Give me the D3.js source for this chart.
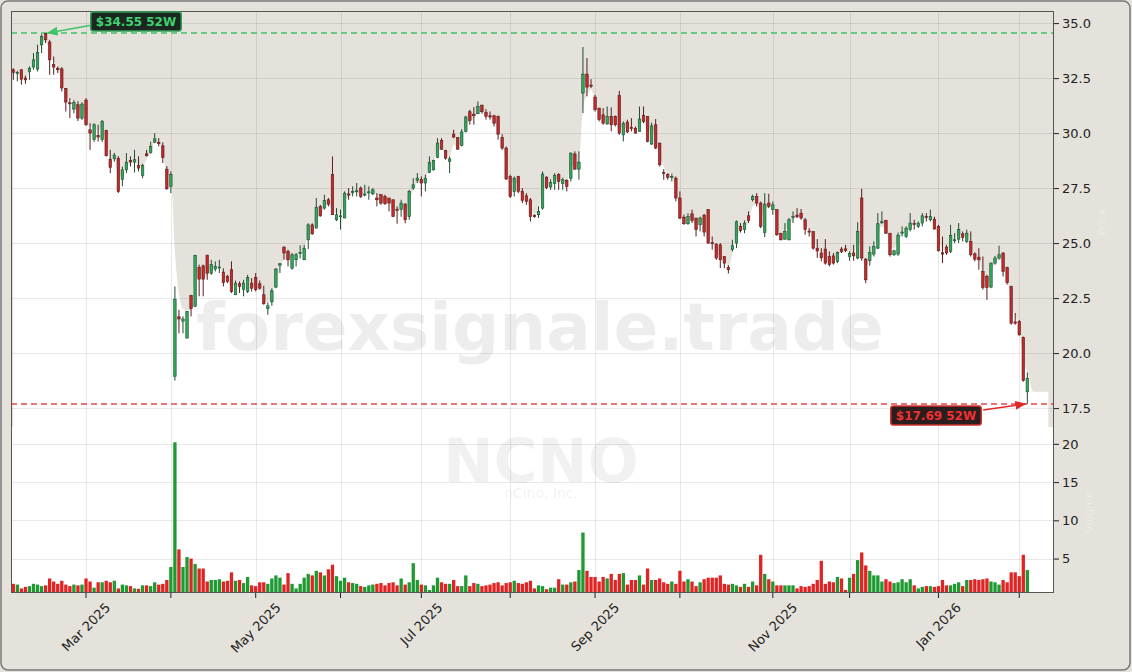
<!DOCTYPE html>
<html><head><meta charset="utf-8">
<script src="https://cdn.jsdelivr.net/npm/d3@7"></script>
<style>html,body{margin:0;padding:0;background:#e5e2dc;}svg{display:block;font-family:"DejaVu Sans",sans-serif;}</style>
</head><body><svg id="c" width="1132" height="672"></svg>
<script>
// ---------- DATA ----------
const ticker = "NCNO";
const companyName = "nCino, Inc.";
const watermarkText = "forexsignale.trade";
const startDate = "2025-02-04";
const holidays = ["2025-02-17","2025-04-18","2025-05-26","2025-06-19","2025-07-04","2025-09-01","2025-11-27","2025-12-25","2026-01-01","2026-01-19"];
const priceTicks = [17.5, 20.0, 22.5, 25.0, 27.5, 30.0, 32.5, 35.0];
const volumeTicks = [5, 10, 15, 20];
const labeledMonths = [0, 2, 4, 6, 8, 10]; // Jan, Mar, May, Jul, Sep, Nov

const openP = [
32.88,32.70,32.88,32.50,32.80,33.00,32.91,34.01,34.52,34.14,
33.11,32.95,32.92,32.02,31.38,31.09,31.29,30.68,31.50,30.15,
29.70,29.90,29.70,30.11,28.82,28.83,28.86,27.90,28.33,28.76,
28.68,28.52,28.08,29.06,29.12,29.59,29.58,29.42,28.36,27.58,
18.95,21.65,21.45,20.68,22.62,22.12,23.90,23.97,24.45,23.63,
23.82,23.90,23.68,23.48,23.79,22.65,23.15,22.90,22.80,23.18,
23.44,23.15,22.65,22.02,22.33,23.00,24.00,24.82,24.62,23.86,
24.24,24.52,24.24,25.15,25.83,25.68,26.67,26.59,26.97,28.11,
26.06,26.20,26.14,27.23,27.30,27.33,27.50,27.20,27.30,27.24,
27.05,27.20,27.12,27.05,26.97,26.54,26.52,26.77,26.20,27.50,
27.85,27.90,27.73,28.21,28.33,28.90,29.67,29.20,28.71,29.95,
29.80,29.44,30.08,30.97,30.86,30.88,31.27,30.94,30.79,30.79,
30.76,29.80,29.32,28.03,27.35,28.03,27.35,27.15,26.97,26.27,
26.29,26.59,28.00,27.55,27.70,28.11,27.70,27.85,27.95,29.05,
28.36,31.82,32.68,32.18,31.64,31.14,30.83,30.42,30.76,30.76,
31.70,29.92,30.50,30.26,30.20,30.08,30.80,30.76,29.50,30.38,
29.55,28.20,28.11,28.00,27.95,27.05,26.18,25.88,26.33,26.14,
25.83,26.27,26.52,25.03,24.95,24.92,24.39,23.89,24.70,25.00,
25.76,25.61,26.24,26.97,27.12,26.82,25.48,26.82,26.52,26.52,
25.45,25.18,25.15,26.17,26.27,26.36,26.06,25.55,25.53,24.77,
24.55,24.73,24.39,24.42,24.17,24.73,24.74,24.39,24.55,24.32,
27.05,24.27,24.20,24.50,24.77,25.92,26.02,25.45,24.47,24.50,
25.48,25.30,25.61,25.89,25.76,25.91,26.20,26.06,26.09,25.76,
24.56,24.82,24.62,25.12,25.18,25.42,25.08,25.08,24.51,24.36,
23.70,23.48,23.00,24.09,24.32,24.55,23.89,23.03,21.42,21.44,
20.70,18.24];
const highP = [
32.95,32.83,32.91,32.61,33.03,33.64,34.02,34.50,34.55,34.24,
33.48,33.03,33.00,32.05,31.59,31.50,31.45,31.40,31.59,30.45,
30.45,30.38,30.60,30.15,29.24,29.10,28.95,28.48,29.09,28.94,
29.24,28.94,28.60,29.24,29.61,30.00,29.77,29.58,28.50,28.26,
23.03,21.97,21.67,21.90,22.65,24.47,24.02,24.02,24.47,24.24,
24.17,24.24,23.85,23.56,24.17,23.30,23.26,23.33,23.56,23.41,
23.64,23.30,23.06,22.30,22.95,23.86,24.09,24.85,24.70,24.55,
24.55,24.90,24.92,25.90,25.90,27.05,26.74,27.20,27.05,28.94,
26.59,26.52,27.35,27.50,27.58,27.73,27.58,27.65,27.58,27.50,
27.27,27.20,27.20,27.05,26.97,26.67,26.97,26.82,27.42,27.95,
28.18,28.03,28.11,28.94,28.79,29.77,29.77,29.24,28.94,30.15,
29.80,30.18,30.79,31.06,31.18,31.44,31.29,31.09,30.98,30.83,
30.80,29.95,29.39,28.11,28.03,28.06,27.50,27.27,27.05,26.30,
26.67,28.26,28.03,27.90,28.18,28.18,27.97,27.90,29.12,29.17,
29.17,33.91,33.41,32.45,31.74,31.14,31.14,31.21,31.17,30.80,
31.92,30.53,30.61,30.68,30.30,31.21,31.21,30.76,30.48,30.64,
29.55,28.36,28.18,28.15,28.03,27.35,26.29,26.36,26.52,26.14,
26.20,26.33,26.55,25.30,25.00,25.00,24.39,24.00,25.15,26.03,
25.91,26.03,26.44,27.20,27.27,26.89,27.27,27.24,26.89,26.52,
25.45,25.91,26.14,26.44,26.59,26.55,26.14,25.68,25.53,25.18,
24.77,25.18,24.62,24.55,24.62,24.82,24.92,24.62,24.92,25.95,
27.47,24.32,24.85,25.08,26.36,26.44,26.06,25.45,24.70,25.48,
25.76,25.76,26.36,26.06,25.98,26.36,26.36,26.52,26.20,25.83,
25.30,24.92,25.83,25.45,25.91,25.53,25.61,25.53,24.58,24.77,
24.39,23.56,24.12,24.42,24.88,24.58,23.93,23.06,21.82,21.50,
20.75,19.12];
const lowP = [
32.42,32.35,32.20,32.24,32.42,32.88,32.80,33.64,34.09,32.65,
32.65,32.73,31.89,30.98,30.68,30.90,30.55,30.60,30.33,29.24,
29.60,29.62,29.60,28.94,28.18,28.70,27.28,27.58,28.18,28.48,
28.21,28.26,27.95,28.94,29.06,29.55,29.40,28.64,27.42,27.27,
18.75,20.90,20.90,20.68,21.67,22.10,22.58,22.58,23.33,23.56,
23.71,23.64,23.03,23.18,22.73,22.65,22.73,22.58,22.73,22.80,
22.80,22.88,22.20,21.74,22.15,22.95,23.64,24.24,23.94,23.79,
23.94,24.30,24.24,24.73,25.38,25.68,26.20,26.52,26.67,26.29,
26.00,25.61,26.14,26.97,27.12,27.12,27.05,27.12,26.97,27.18,
26.67,26.74,26.74,26.44,26.20,25.88,26.20,25.90,26.06,27.42,
27.73,27.12,27.35,28.18,28.30,28.86,29.24,28.79,28.18,29.77,
29.24,29.39,30.03,30.38,30.38,30.86,30.88,30.61,30.61,30.30,
29.70,29.24,27.88,27.05,27.12,27.27,26.82,26.74,25.98,26.15,
26.14,26.52,27.45,27.42,27.42,27.42,27.42,27.35,27.80,28.33,
27.88,30.91,31.67,32.05,30.98,30.53,30.38,30.38,30.08,30.30,
29.92,29.62,30.00,30.08,29.97,30.08,30.45,29.58,29.47,29.27,
28.48,27.88,27.88,27.80,26.90,26.09,25.83,25.83,25.91,25.30,
25.53,25.30,24.97,24.70,24.24,23.86,23.86,23.62,24.62,24.77,
25.48,25.45,25.91,26.89,26.67,25.68,25.27,26.59,26.29,25.33,
25.12,25.15,25.12,25.91,26.14,26.06,25.38,25.30,24.70,24.33,
24.17,24.02,23.94,24.02,24.09,24.55,24.59,24.20,24.20,24.27,
24.20,23.18,23.97,24.39,24.73,25.88,25.42,24.39,24.42,24.42,
25.30,25.23,25.53,25.61,25.68,25.76,25.98,25.98,25.61,24.62,
24.09,24.47,24.55,25.00,25.00,25.08,25.00,24.39,24.17,23.79,
22.88,22.42,22.95,24.02,24.24,23.48,23.11,21.29,21.29,20.79,
18.70,17.69];
const closeP = [
32.76,32.76,32.45,32.42,32.95,33.33,33.67,34.39,34.24,33.33,
33.00,32.88,32.05,31.41,31.33,31.39,30.68,31.32,30.38,30.00,
30.38,29.82,30.53,28.97,28.44,29.00,27.35,28.33,28.68,28.69,
28.79,28.41,28.52,28.97,29.39,29.74,29.52,28.89,27.47,28.11,
22.45,21.55,21.55,21.89,22.02,24.44,23.36,23.36,23.63,24.02,
23.94,23.91,23.20,23.26,22.80,23.18,23.03,23.18,23.44,22.95,
22.88,22.95,22.24,22.15,22.83,23.82,24.06,24.55,24.24,24.47,
24.47,24.58,24.77,25.83,25.42,26.63,26.24,26.94,26.77,26.29,
26.29,26.24,27.27,27.20,27.35,27.38,27.12,27.23,27.33,27.42,
26.97,26.82,26.79,26.82,26.20,26.48,26.82,26.06,27.35,27.65,
27.95,27.73,27.95,28.67,28.76,29.55,29.27,28.86,28.83,29.82,
29.27,30.05,30.73,30.58,30.79,31.21,30.97,30.76,30.73,30.45,
29.95,29.32,27.91,27.12,27.95,27.35,26.94,26.89,26.20,26.20,
26.44,28.14,27.53,27.76,28.08,27.80,27.88,27.58,29.09,28.36,
28.68,32.68,32.09,32.14,31.06,30.61,30.45,30.76,30.38,30.38,
30.00,30.45,30.05,30.20,30.00,30.64,30.53,29.62,30.33,29.32,
28.56,28.18,27.98,28.03,27.05,26.14,25.88,26.20,26.03,25.61,
26.14,25.50,25.00,24.97,24.32,24.24,24.09,23.79,24.88,25.97,
25.58,25.91,26.03,27.12,26.82,25.76,26.77,26.67,26.74,25.38,
25.15,25.53,26.06,26.20,26.20,26.14,25.61,25.50,24.77,24.64,
24.33,24.09,24.02,24.09,24.58,24.62,24.67,24.52,24.42,25.53,
24.32,23.33,24.58,24.85,25.88,25.97,25.45,24.47,24.65,25.36,
25.50,25.68,25.91,25.85,25.91,26.24,26.17,26.20,25.64,24.65,
24.50,24.55,25.35,25.15,25.61,25.26,25.45,24.47,24.27,24.24,
22.98,22.98,24.09,24.32,24.47,23.71,23.20,21.36,21.36,20.83,
18.75,18.86];
const volumeM = [
1.7,1.6,1.1,1.3,1.4,1.7,1.6,1.4,1.5,2.4,
2.0,1.7,2.1,1.6,1.4,1.6,1.5,1.6,2.4,2.0,
1.2,1.9,1.9,2.1,1.9,2.1,1.1,1.6,1.5,1.4,
1.1,1.05,1.5,1.5,1.4,1.9,1.6,1.7,2.2,3.9,
20.2,6.2,3.9,5.2,5.0,4.3,3.7,3.7,2.0,2.2,
2.2,2.3,2.0,2.1,3.2,2.1,2.2,1.8,2.6,1.5,
1.4,1.9,1.9,1.7,2.4,2.8,2.5,1.6,3.1,1.7,
1.1,1.7,2.5,3.0,2.8,3.4,3.2,2.8,3.6,4.2,
2.7,2.1,2.5,1.9,1.8,1.7,1.4,1.3,1.5,1.6,
1.7,1.8,1.5,1.8,1.9,1.5,2.4,1.6,1.9,4.4,
2.2,1.6,1.5,0.9,1.5,2.5,1.9,1.7,1.7,2.2,
1.4,1.4,2.8,1.4,1.8,1.7,1.4,1.5,1.6,1.8,
1.9,1.5,1.8,1.9,2.1,1.8,1.7,1.9,2.1,1.1,
1.5,1.4,1.0,1.2,1.2,2.3,1.6,1.6,1.9,2.0,
3.5,8.4,3.4,2.6,2.6,2.0,2.6,2.4,3.0,2.2,
3.0,3.1,1.6,2.2,2.2,2.8,1.6,3.7,2.2,2.2,
2.4,1.9,1.7,2.0,1.7,3.4,2.0,2.3,2.0,1.4,
1.9,2.3,2.5,2.5,2.5,2.8,1.7,1.6,1.7,1.5,
1.3,1.7,1.3,2.0,1.5,5.5,3.0,2.3,2.0,1.5,
1.5,1.5,1.5,1.5,1.1,1.4,1.3,1.4,1.7,2.2,
4.7,1.7,2.0,1.9,2.6,2.4,0.9,2.5,3.0,4.8,
5.8,4.1,3.4,2.8,2.8,2.0,2.3,2.0,1.8,1.9,
2.3,1.9,2.3,1.5,1.1,1.3,1.4,1.4,1.3,1.4,
2.2,1.5,1.5,1.7,1.9,1.4,2.2,2.2,2.3,2.2,
2.3,2.4,2.0,1.9,1.6,2.2,1.9,3.2,3.2,2.7,
5.5,3.5];

// ---------- HELPERS ----------
function tradingDays(start, count, hol) {
  const out = []; const hs = new Set(hol);
  const d = new Date(start + "T12:00:00");
  const fmt = d3.timeFormat("%Y-%m-%d");
  while (out.length < count) {
    const wd = d.getDay();
    if (wd !== 0 && wd !== 6 && !hs.has(fmt(d))) out.push(new Date(d));
    d.setDate(d.getDate() + 1);
  }
  return out;
}

const n = closeP.length;
const dates = tradingDays(startDate, n, holidays);
const data = d3.range(n).map(i => ({i, o: openP[i], h: highP[i], l: lowP[i], c: closeP[i], v: volumeM[i], date: dates[i]}));

const W = 1132, H = 672;
const L = 11, R = 1054, T = 11, PB = 427, VB = 593;
const BG = "#e5e2dc";

const x = d3.scaleLinear().domain([-0.57, n + 5.6]).range([L, R]);
const yP = d3.scaleLinear().domain([16.64, 35.55]).range([PB, T]);
const yV = d3.scaleLinear().domain([0.5, 22.2]).range([VB, PB]);

const svg = d3.select("#c");
svg.append("rect").attr("x", 0).attr("y", 0).attr("width", W).attr("height", H).attr("fill", BG);

// price panel background
svg.append("rect").attr("x", L).attr("y", T).attr("width", R - L).attr("height", PB - T).attr("fill", BG);

// white area under a short exponential average of the closes
const alpha = 0.62;
let ema = data[0].l;
const fillPts = data.map(d => { ema = alpha * d.c + (1 - alpha) * ema; return [d.i, ema]; });
const last = data[n - 1];
const tail = Math.min(last.o, last.c);
fillPts.push([n - 1 + 1.5, tail]);
fillPts.push([n - 1 + 5.2, tail]);
const area = d3.area().x(p => x(p[0])).y0(PB).y1(p => yP(p[1])).curve(d3.curveMonotoneX);
svg.append("path").attr("d", area(fillPts)).attr("fill", "#ffffff");

// volume panel background
svg.append("rect").attr("x", L).attr("y", PB).attr("width", R - L).attr("height", VB - PB).attr("fill", "#ffffff");

// month ticks (first trading day of each month, skipping the partial first month)
const monthTicks = [];
for (let i = 1; i < n; i++) {
  if (dates[i].getMonth() !== dates[i - 1].getMonth()) monthTicks.push(i);
}

// gridlines
const grid = svg.append("g").attr("stroke", "#000").attr("stroke-opacity", 0.085).attr("stroke-width", 1);
priceTicks.forEach(t => grid.append("line").attr("x1", L).attr("x2", R).attr("y1", Math.round(yP(t)) + 0.5).attr("y2", Math.round(yP(t)) + 0.5));
volumeTicks.forEach(t => grid.append("line").attr("x1", L).attr("x2", R).attr("y1", Math.round(yV(t)) + 0.5).attr("y2", Math.round(yV(t)) + 0.5));
monthTicks.forEach(i => grid.append("line").attr("x1", Math.round(x(i)) + 0.5).attr("x2", Math.round(x(i)) + 0.5).attr("y1", T).attr("y2", VB));

// watermarks
svg.append("text").attr("x", 540).attr("y", 350).attr("text-anchor", "middle")
  .attr("font-size", 66).attr("font-weight", "bold").attr("fill", "#000").attr("fill-opacity", 0.07).text(watermarkText);
svg.append("text").attr("x", 541).attr("y", 482).attr("text-anchor", "middle")
  .attr("font-size", 60).attr("font-weight", "bold").attr("fill", "#000").attr("fill-opacity", 0.055).text(ticker);
svg.append("text").attr("x", 541).attr("y", 498).attr("text-anchor", "middle")
  .attr("font-size", 14).attr("fill", "#000").attr("fill-opacity", 0.07).text(companyName);

// 52W lines
const hiIdx = d3.maxIndex(data, d => d.h), loIdx = d3.minIndex(data, d => d.l);
const hi = data[hiIdx].h, lo = data[loIdx].l;
svg.append("line").attr("x1", L).attr("x2", R).attr("y1", yP(hi)).attr("y2", yP(hi))
  .attr("stroke", "#3fc46a").attr("stroke-width", 1.5).attr("stroke-dasharray", "6,4");
svg.append("line").attr("x1", L).attr("x2", R).attr("y1", yP(lo)).attr("y2", yP(lo))
  .attr("stroke", "#e04a4a").attr("stroke-width", 1.5).attr("stroke-dasharray", "6,4");

// volume bars
const step = x(1) - x(0);
const vw = step * 0.82;
svg.append("g").selectAll("rect").data(data).join("rect")
  .attr("x", d => x(d.i) - vw / 2).attr("width", vw)
  .attr("y", d => yV(d.v)).attr("height", d => VB - yV(d.v))
  .attr("fill", d => d.c >= d.o ? "#1f9a32" : "#e02424");

// candles
const cw = step * 0.62;
const cg = svg.append("g");
data.forEach(d => {
  const up = d.c >= d.o;
  const edge = up ? "#1f4d30" : "#5a1c1c";
  cg.append("line").attr("x1", x(d.i)).attr("x2", x(d.i)).attr("y1", yP(d.h)).attr("y2", yP(d.l))
    .attr("stroke", edge).attr("stroke-width", 1);
  const top = yP(Math.max(d.o, d.c)), bot = yP(Math.min(d.o, d.c));
  cg.append("rect").attr("x", x(d.i) - cw / 2).attr("width", cw)
    .attr("y", top).attr("height", Math.max(1, bot - top))
    .attr("fill", up ? "#2fa85a" : "#c42a2a").attr("stroke", edge).attr("stroke-width", 0.6);
});

// frame
svg.append("rect").attr("x", L + 0.5).attr("y", T + 0.5).attr("width", R - L - 1).attr("height", VB - T - 1)
  .attr("fill", "none").attr("stroke", "#555").attr("stroke-width", 1);

// annotations
function marker(id, color) {
  svg.append("defs").append("marker").attr("id", id).attr("viewBox", "0 0 10 10").attr("refX", 9).attr("refY", 5)
    .attr("markerWidth", 7).attr("markerHeight", 7).attr("orient", "auto")
    .append("path").attr("d", "M0,1 L10,5 L0,9 z").attr("fill", color);
}
marker("ag", "#3fc46a"); marker("ar", "#e02828");
function label(cx, cy, txt, fg, bg, bd) {
  const g = svg.append("g");
  const t = g.append("text").attr("x", cx).attr("y", cy).attr("text-anchor", "middle").attr("dominant-baseline", "central")
    .attr("font-size", 12).attr("font-weight", "bold").attr("fill", fg).text(txt);
  const w = t.node().getComputedTextLength() + 10;
  g.insert("rect", "text").attr("x", cx - w / 2).attr("y", cy - 9.5).attr("width", w).attr("height", 19)
    .attr("rx", 2.5).attr("fill", bg).attr("stroke", bd).attr("stroke-width", 1.5);
  return {left: cx - w / 2, right: cx + w / 2};
}
const gl = label(136, 21.5, "$" + hi.toFixed(2) + " 52W", "#3fd26e", "#1d2721", "#2f9e52");
svg.append("line").attr("x1", gl.left - 1).attr("y1", 25.5).attr("x2", x(hiIdx) + 2).attr("y2", yP(hi))
  .attr("stroke", "#3fc46a").attr("stroke-width", 1.6).attr("marker-end", "url(#ag)");
const rl = label(936, 415.5, "$" + lo.toFixed(2) + " 52W", "#f03030", "#2a1e1e", "#d03030");
svg.append("line").attr("x1", rl.right + 2).attr("y1", 410).attr("x2", x(loIdx) - 2).attr("y2", yP(lo))
  .attr("stroke", "#e02828").attr("stroke-width", 1.6).attr("marker-end", "url(#ar)");

// axes
const axP = d3.axisRight(yP).tickValues(priceTicks).tickFormat(d3.format(".1f")).tickSize(5).tickPadding(3);
const gP = svg.append("g").attr("transform", `translate(${R},0)`).call(axP);
const axV = d3.axisRight(yV).tickValues(volumeTicks).tickFormat(d3.format("d")).tickSize(5).tickPadding(3);
const gV = svg.append("g").attr("transform", `translate(${R},0)`).call(axV);
[gP, gV].forEach(g => {
  g.select(".domain").remove();
  g.selectAll("line").attr("stroke", "#222");
  g.selectAll("text").attr("font-size", 13).attr("fill", "#222").attr("font-family", "DejaVu Sans");
});

const gx = svg.append("g");
monthTicks.forEach(i => {
  const tx = x(i);
  gx.append("line").attr("x1", tx).attr("x2", tx).attr("y1", VB).attr("y2", VB + 5).attr("stroke", "#222");
  if (labeledMonths.includes(dates[i].getMonth())) {
    const g = gx.append("g");
    const t = g.append("text").attr("text-anchor", "middle").attr("dominant-baseline", "central")
      .attr("font-size", 13).attr("fill", "#222").text(d3.timeFormat("%b %Y")(dates[i]));
    const w = t.node().getComputedTextLength();
    const bh = (w + 15) * Math.SQRT1_2;
    g.attr("transform", `translate(${tx},${600 + bh / 2}) rotate(-45)`);
  }
});

// faint side labels
svg.append("text").attr("transform", "translate(1106,222) rotate(-90)").attr("text-anchor", "middle")
  .attr("font-size", 11).attr("fill", "#fff").attr("fill-opacity", 0.3).text("Price");
svg.append("text").attr("transform", "translate(1093,512) rotate(-90)").attr("text-anchor", "middle")
  .attr("font-size", 11).attr("fill", "#fff").attr("fill-opacity", 0.3).text("Volume");

// outer border
svg.append("rect").attr("x", 1).attr("y", 1).attr("width", W - 3).attr("height", H - 3).attr("rx", 7)
  .attr("fill", "none").attr("stroke", "#7a7a7a").attr("stroke-width", 1.5);
</script></body></html>
